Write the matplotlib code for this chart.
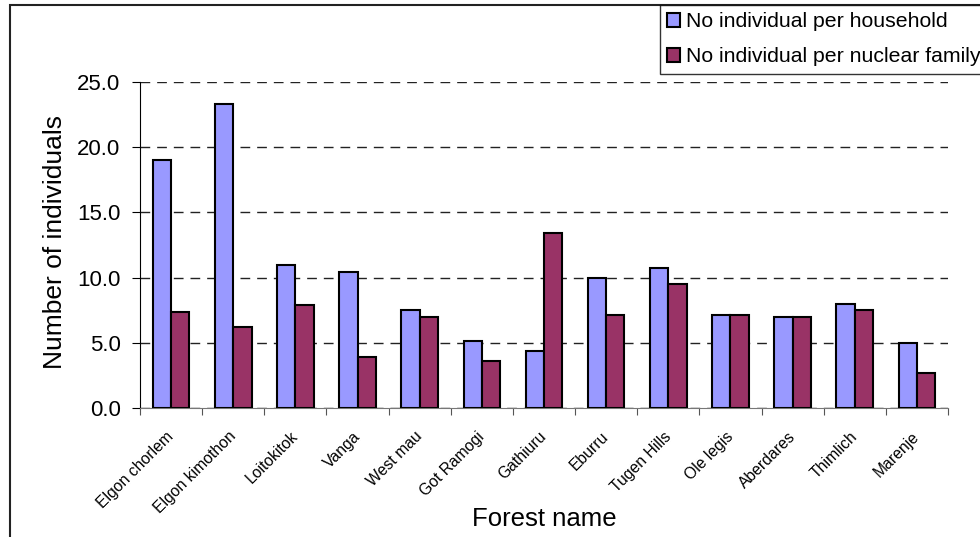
import matplotlib
matplotlib.use("Agg")
import matplotlib.pyplot as plt
import matplotlib.transforms as mtransforms
import numpy as np
from matplotlib.patches import Rectangle

forests = ["Elgon chorlem", "Elgon kimothon", "Loitokitok", "Vanga", "West mau",
           "Got Ramogi", "Gathiuru", "Eburru", "Tugen Hills", "Ole legis",
           "Aberdares", "Thimlich", "Marenje"]
household = [19.05, 23.3, 11.0, 10.45, 7.5, 5.1, 4.4, 10.0, 10.7, 7.1, 7.0, 8.0, 4.95]
nuclear = [7.4, 6.25, 7.9, 3.9, 6.95, 3.6, 13.4, 7.1, 9.5, 7.1, 7.0, 7.5, 2.7]
yticks = [0, 5, 10, 15, 20, 25]

plt.rcParams['font.family'] = ['Liberation Sans', 'DejaVu Sans']

fig = plt.figure(figsize=(9.8, 5.37), dpi=100)
W, H = 980, 537
ax = fig.add_axes([140 / W, 1 - 408 / H, (948 - 140) / W, (408 - 82) / H])

# figure frame
fig.patches.append(Rectangle((10 / W, -0.1), 1.2, 1 - 5 / H + 0.1, transform=fig.transFigure,
                             fill=False, edgecolor='#222222', linewidth=1.5))

x = np.arange(len(forests))
bw = 0.295
ax.bar(x - bw / 2, household, bw, color='#9999FF', edgecolor='black', linewidth=1.5,
       label='No individual per household', zorder=3)
ax.bar(x + bw / 2, nuclear, bw, color='#993366', edgecolor='black', linewidth=1.5,
       label='No individual per nuclear family', zorder=3)

ax.set_xlim(-0.5, len(forests) - 0.5)
ax.set_ylim(0, 25)
ax.set_yticks(yticks)
ax.set_yticklabels([f"{v:.1f}" for v in yticks], fontsize=16)
ax.yaxis.grid(True, linestyle=(0, (7, 5)), color='#222222', linewidth=1.0, zorder=0)
ax.set_axisbelow(True)

ax.set_xticks(np.arange(len(forests) + 1) - 0.5, minor=False)
ax.set_xticklabels([])
ax.set_xticks(x, minor=True)
labels = ax.set_xticklabels(forests, minor=True, rotation=45, ha='right', va='top',
                            rotation_mode='anchor', fontsize=11.3)
ax.tick_params(axis='x', which='minor', length=0, pad=15)
ax.tick_params(axis='x', which='major', length=5, direction='out', color='#555555')
ax.tick_params(axis='y', length=6, direction='out', pad=8)
offset = mtransforms.ScaledTranslation(-5 / 100, 0, fig.dpi_scale_trans)
for lab in ax.get_xticklabels(minor=True):
    lab.set_transform(lab.get_transform() + offset)

for s in ['top', 'right']:
    ax.spines[s].set_visible(False)
ax.spines['bottom'].set_color('#777777')
ax.spines['left'].set_color('black')

ax.set_ylabel('Number of individuals', fontsize=19, va='center')
ax.yaxis.set_label_coords(-0.105, 0.51)
ax.set_xlabel('Forest name', fontsize=18.5, va='center')
ax.xaxis.set_label_coords(0.5, -0.34)

leg = fig.legend(loc='upper left', bbox_to_anchor=(660 / W, 1 - 5 / H), fontsize=15.3,
                 frameon=True, fancybox=False, edgecolor='black', handlelength=0.6,
                 handleheight=0.6, handletextpad=0.25, borderpad=0.35, labelspacing=0.75,
                 borderaxespad=0)
leg.get_frame().set_linewidth(1.0)
for h in leg.legend_handles:
    h.set_linewidth(1.5)

fig.savefig('out.png', dpi=100)
